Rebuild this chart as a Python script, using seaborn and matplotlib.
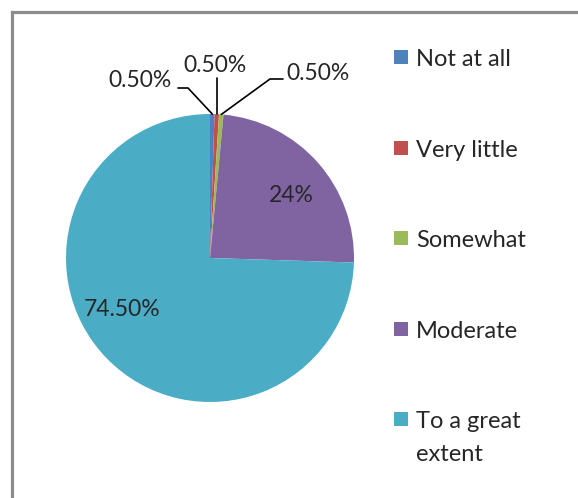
import matplotlib
matplotlib.use("Agg")
import matplotlib.pyplot as plt
import seaborn as sns
import numpy as np
from matplotlib.lines import Line2D
from matplotlib.patches import Rectangle

categories = ["Not at all", "Very little", "Somewhat", "Moderate", "To a great\nextent"]
shares = [0.5, 0.5, 0.5, 24, 74.5]
value_labels = ["0.50%", "0.50%", "0.50%", "24%", "74.50%"]
colors = ["#4F81BD", "#C0504D", "#9BBB59", "#8064A2", "#4BACC6"]

sns.set_style("white")
plt.rcParams["font.family"] = ["Lato", "DejaVu Sans"]

W, H = 578, 498
fig = plt.figure(figsize=(W / 100, H / 100), dpi=100)

# pie centre (210, 258) px, radius 144 px
cx, cy, r = 210, 258, 144
ax = fig.add_axes([(cx - r) / W, (H - cy - r) / H, 2 * r / W, 2 * r / H])
wedges, _ = ax.pie(shares, colors=colors, startangle=90, counterclock=False,
                   wedgeprops=dict(linewidth=0))
ax.set_xlim(-1, 1)
ax.set_ylim(-1, 1)
ax.set_aspect("equal")


def px(x, y):
    return (x - cx) / r, (cy - y) / r


def mid_point(w):
    a = np.deg2rad((w.theta1 + w.theta2) / 2)
    return np.cos(a), np.sin(a)


fs = 16.5
# small slices with leader lines
p0 = mid_point(wedges[0])
e1, e2 = px(188, 88), px(178, 88)
ax.plot([p0[0], e1[0], e2[0]], [p0[1], e1[1], e2[1]], color="black", lw=1.2, clip_on=False)
t = px(172, 80)
ax.text(t[0], t[1], value_labels[0], ha="right", va="center", fontsize=fs)

p1 = mid_point(wedges[1])
top = px(216, 78)
ax.plot([p1[0], p1[0]], [p1[1], top[1]], color="black", lw=1.2, clip_on=False)
t = px(215, 65)
ax.text(t[0], t[1], value_labels[1], ha="center", va="center", fontsize=fs)

p2 = mid_point(wedges[2])
e1, e2 = px(270, 79), px(283, 79)
ax.plot([p2[0], e1[0], e2[0]], [p2[1], e1[1], e2[1]], color="black", lw=1.2, clip_on=False)
t = px(286, 73)
ax.text(t[0], t[1], value_labels[2], ha="left", va="center", fontsize=fs)

# inside labels
t = px(291, 196)
ax.text(t[0], t[1], value_labels[3], ha="center", va="center", fontsize=fs)
t = px(122, 309)
ax.text(t[0], t[1], value_labels[4], ha="center", va="center", fontsize=fs)

# legend, drawn by hand so the two-line label aligns on its first line
for i, (lab, c) in enumerate(zip(categories, colors)):
    yc = 57 + 90.5 * i
    fig.patches.append(Rectangle((394 / W, 1 - (yc + 7) / H), 14 / W, 14 / H,
                                 transform=fig.transFigure, facecolor=c, edgecolor="none"))
    for k, line in enumerate(lab.split("\n")):
        fig.text(416 / W, 1 - (yc + 9 + 33 * k) / H, line, ha="left", va="baseline",
                 fontsize=17)

# chart-area border (left and top only visible)
fig.add_artist(Line2D([12 / W, 12 / W], [0, 1 - 12 / H], transform=fig.transFigure,
                      color="#8c8c8c", lw=2.3, solid_capstyle="projecting"))
fig.add_artist(Line2D([12 / W, 1], [1 - 12 / H, 1 - 12 / H], transform=fig.transFigure,
                      color="#8c8c8c", lw=2.3, solid_capstyle="projecting"))

fig.savefig("out.png", dpi=100)
